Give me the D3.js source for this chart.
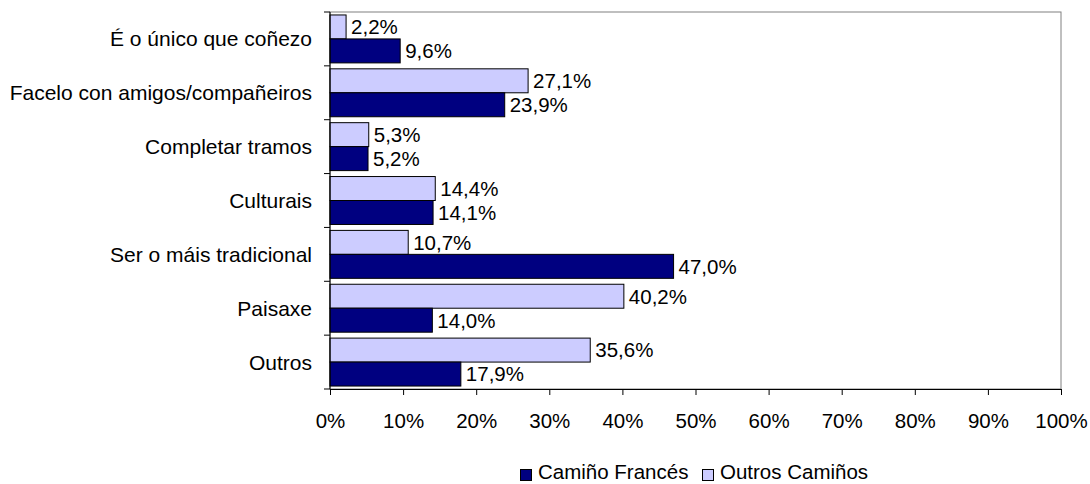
<!DOCTYPE html>
<html>
<head>
<meta charset="utf-8">
<script src="https://cdn.jsdelivr.net/npm/d3@7"></script>
<style>
  body { margin: 0; background: #fff; }
  text { font-family: "Liberation Sans", Arial, sans-serif; fill: #000; }
</style>
</head>
<body>
<script>
const categories = ['É o único que coñezo', 'Facelo con amigos/compañeiros', 'Completar tramos',
  'Culturais', 'Ser o máis tradicional', 'Paisaxe', 'Outros'];
const outrosCaminos = [2.2, 27.1, 5.3, 14.4, 10.7, 40.2, 35.6];
const caminoFrances = [9.6, 23.9, 5.2, 14.1, 47.0, 14.0, 17.9];
const seriesNames = ['Camiño Francés', 'Outros Camiños'];
const xTicks = [0, 10, 20, 30, 40, 50, 60, 70, 80, 90, 100];

(function init() {
  const width = 1090;
  const height = 484;
  const left = 330, right = 1061, top = 12, bottom = 389;
  const fs = '20.5px';

  const svg = d3.select('body')
    .append('svg')
    .attr('width', width)
    .attr('height', height);

  const x = d3.scaleLinear().domain([0, 100]).range([left, right]);
  const y = d3.scaleBand().domain(categories).range([top, bottom]).paddingInner(0.11).paddingOuter(0.055);
  const sub = d3.scaleBand().domain(['outros', 'frances']).range([0, y.bandwidth()]);

  // plot area frame
  svg.append('rect')
    .attr('x', left).attr('y', top)
    .attr('width', right - left).attr('height', bottom - top)
    .attr('fill', 'none').attr('stroke', '#808080');

  const rows = categories.map((c, i) => ({ cat: c, outros: outrosCaminos[i], frances: caminoFrances[i] }));
  const colors = { outros: '#ccccff', frances: '#000080' };

  ['outros', 'frances'].forEach(key => {
    svg.append('g').selectAll('rect')
      .data(rows)
      .enter()
      .append('rect')
      .attr('x', x(0))
      .attr('y', d => y(d.cat) + sub(key))
      .attr('width', d => x(d[key]) - x(0))
      .attr('height', sub.bandwidth())
      .attr('fill', colors[key])
      .attr('stroke', '#000')
      .attr('stroke-width', 1);

    svg.append('g').selectAll('text')
      .data(rows)
      .enter()
      .append('text')
      .attr('x', d => x(d[key]) + 5)
      .attr('y', d => y(d.cat) + sub(key) + sub.bandwidth() / 2)
      .attr('dy', '0.36em')
      .style('font-size', fs)
      .text(d => d[key].toFixed(1).replace('.', ',') + '%');
  });

  // x axis
  const xAxis = svg.append('g')
    .attr('transform', `translate(0,${bottom})`)
    .call(d3.axisBottom(x).tickValues(xTicks).tickSize(6).tickPadding(18).tickFormat(d => d + '%'));
  xAxis.select('.domain').attr('stroke', '#000');
  xAxis.selectAll('text').style('font-size', fs).attr('font-family', null);

  // y axis with ticks between categories
  const yAxis = svg.append('g').attr('transform', `translate(${left},0)`);
  yAxis.append('line').attr('x1', 0).attr('x2', 0).attr('y1', top).attr('y2', bottom).attr('stroke', '#000');
  const step = (bottom - top) / categories.length;
  yAxis.selectAll('line.tick')
    .data(d3.range(categories.length + 1))
    .enter()
    .append('line')
    .attr('class', 'tick')
    .attr('x1', -6).attr('x2', 0)
    .attr('y1', i => top + i * step).attr('y2', i => top + i * step)
    .attr('stroke', '#000');
  yAxis.selectAll('text')
    .data(categories)
    .enter()
    .append('text')
    .attr('x', -18)
    .attr('y', d => y(d) + y.bandwidth() / 2)
    .attr('dy', '0.36em')
    .attr('text-anchor', 'end')
    .style('font-size', '21px')
    .text(d => d);

  // legend
  const legend = svg.append('g');
  const items = [
    { name: seriesNames[0], color: colors.frances, x: 520 },
    { name: seriesNames[1], color: colors.outros, x: 702 }
  ];
  items.forEach(it => {
    legend.append('rect')
      .attr('x', it.x + 0.5).attr('y', 469.5).attr('width', 11).attr('height', 11)
      .attr('fill', it.color).attr('stroke', '#000');
    legend.append('text')
      .attr('x', it.x + 18).attr('y', 479)
      .style('font-size', fs)
      .text(it.name);
  });
}());
</script>
</body>
</html>
